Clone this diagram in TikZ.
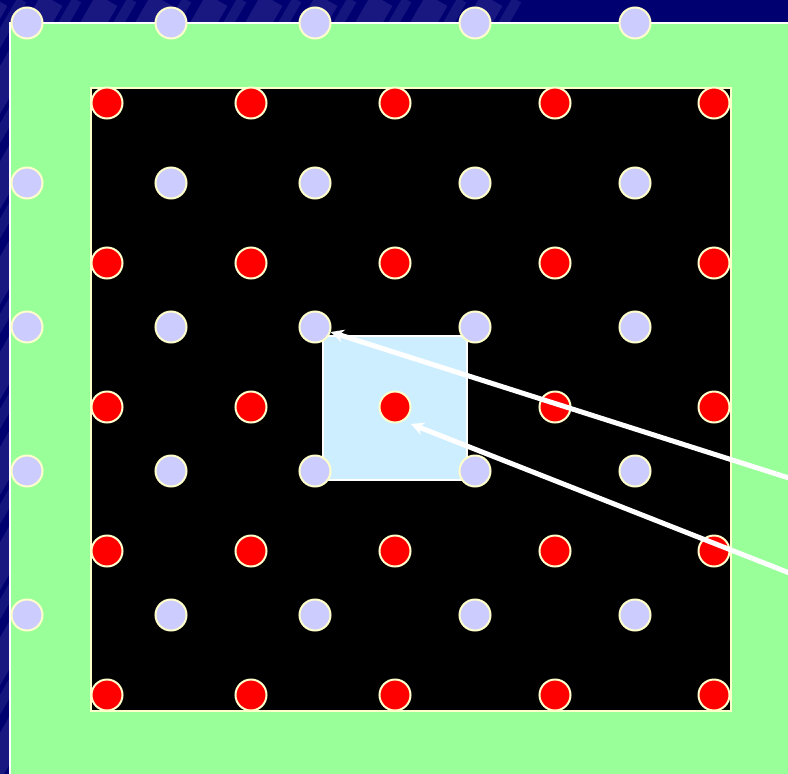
\documentclass[tikz,border=0pt]{standalone}
\usetikzlibrary{arrows.meta}
\definecolor{navy}{HTML}{000070}
\definecolor{stripe}{HTML}{4646A0}
\definecolor{mint}{HTML}{99FF99}
\definecolor{lav}{HTML}{CCCCFF}
\definecolor{cream}{HTML}{FFFFCC}
\definecolor{ice}{HTML}{CCEEFF}
\tikzset{
  ldot/.style={circle, fill=lav, draw=cream, line width=2pt, minimum size=31pt, inner sep=0pt},
  rdot/.style={circle, fill=red, draw=cream, line width=2pt, minimum size=31pt, inner sep=0pt},
  arr/.style={draw=white, line width=5pt, -{Stealth[length=13pt,width=13pt]}},
}
\begin{document}
\begin{tikzpicture}[x=1pt,y=-1pt]
\useasboundingbox (0,0) rectangle (788,774);
% background
\fill[navy] (0,0) rectangle (788,774);
\begin{scope}
  \clip (0,0) rectangle (788,774);
  \foreach \s in {-450,-395,...,70} {
    \draw[stripe, line width=24pt, opacity=0.35] (\s,774) -- (\s+447,0);
    \draw[stripe, line width=10pt, opacity=0.3] (\s+25,774) -- (\s+472,0);
  }
\end{scope}
% green frame
\fill[mint] (10,23) rectangle (790,776);
\draw[white, line width=2pt] (10,776) -- (10,23) -- (790,23);
% black square
\fill[black] (91,88) rectangle (731,711);
\draw[cream, line width=1.5pt] (91,88) rectangle (731,711);
% light blue cell
\draw[white, fill=ice, line width=2pt] (323,336) rectangle (467,480);
% lavender dots: top row
\foreach \x [count=\i] in {27,171,315,475,635} {
  \node[ldot] (T\i) at (\x,23) {};
}
% lavender dots: left column
\foreach \y [count=\j] in {183,327,471,615} {
  \node[ldot] (L\j0) at (27,\y) {};
}
% inner lavender dots
\foreach \y [count=\j] in {183,327,471,615} {
  \foreach \x [count=\i] in {171,315,475,635} {
    \node[ldot] (L\j\i) at (\x,\y) {};
  }
}
% red dots
\foreach \y [count=\j] in {103,263,407,551,695} {
  \foreach \x [count=\i] in {107,251,395,555,714} {
    \node[rdot] (R\j\i) at (\x,\y) {};
  }
}
% arrows
\coordinate (a1s) at (792,479);
\coordinate (a2s) at (792,574);
\coordinate (a2t) at (411,424);
\draw[arr] (a1s) -- (L22);
\draw[arr] (a2s) -- (a2t);
\end{tikzpicture}
\end{document}
